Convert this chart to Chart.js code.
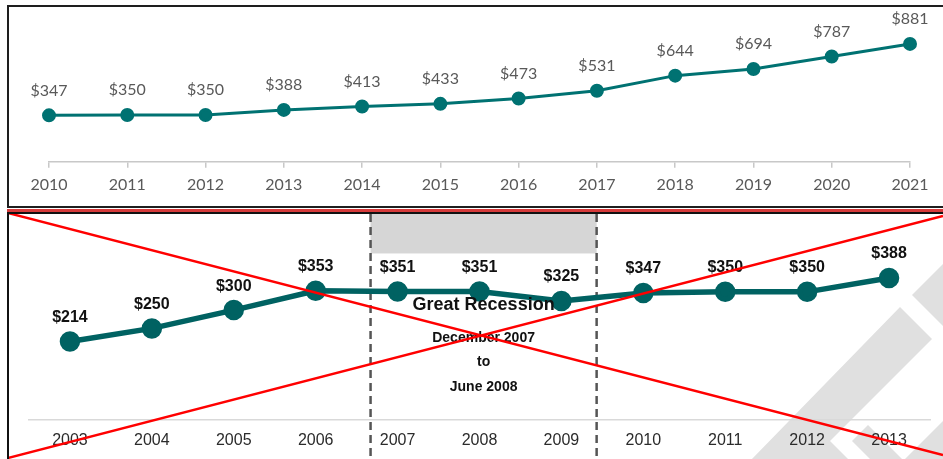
<!DOCTYPE html>
<html>
<head>
<meta charset="utf-8">
<script src="https://cdn.jsdelivr.net/npm/chart.js@4.4.1/dist/chart.umd.min.js"></script>
<style>
  html, body { margin: 0; padding: 0; background: #fff; width: 943px; height: 459px; overflow: hidden; position: relative; }
  #topFrame { position: absolute; left: 7px; top: 5px; width: 960px; height: 199px; border: 2px solid #1e1e1e; box-sizing: content-box; }
  #redRule { position: absolute; left: 7px; top: 209px; width: 960px; height: 2.5px; background: #d63a3a; }
  #botFrame { position: absolute; left: 7px; top: 212px; width: 960px; height: 260px; border-left: 2px solid #111; border-top: 2px solid #111; }
  #topWrap { position: absolute; left: 9px; top: 7px; width: 934px; height: 199px; }
  #botWrap { position: absolute; left: 9px; top: 214px; width: 934px; height: 247px; }
</style>
</head>
<body>
<div id="topFrame"></div>
<div id="redRule"></div>
<div id="botFrame"></div>
<div id="topWrap"><canvas id="topChart" width="934" height="199"></canvas></div>
<div id="botWrap"><canvas id="botChart" width="934" height="247"></canvas></div>
<script>
// ---------- data ----------
const topYears = ['2010','2011','2012','2013','2014','2015','2016','2017','2018','2019','2020','2021'];
const topValues = [347, 350, 350, 388, 413, 433, 473, 531, 644, 694, 787, 881];

const bottomYears = ['2003','2004','2005','2006','2007','2008','2009','2010','2011','2012','2013'];
const bottomValues = [214, 250, 300, 353, 351, 351, 325, 347, 350, 350, 388];

// recession band, in category-index units of the bottom chart
const recessionSpan = [3.67, 6.43];
const recessionShadeFloor = [455];
const recessionText = ['Great Recession', 'December 2007', 'to', 'June 2008'];

// ---------- helpers ----------
function dollar(v) { return '$' + v; }

const labelPlugin = {
  id: 'valueLabels',
  afterDatasetsDraw(chart, args, opts) {
    const ctx = chart.ctx;
    const meta = chart.getDatasetMeta(0);
    ctx.save();
    ctx.font = opts.font;
    ctx.fillStyle = opts.color;
    ctx.textAlign = 'center';
    ctx.textBaseline = 'middle';
    meta.data.forEach((pt, i) => {
      ctx.fillText(dollar(chart.data.datasets[0].data[i]), pt.x, pt.y - opts.offset);
    });
    ctx.restore();
  }
};

// ---------- top chart ----------
new Chart(document.getElementById('topChart'), {
  type: 'line',
  data: {
    labels: topYears,
    datasets: [{
      data: topValues,
      borderColor: '#007272',
      backgroundColor: '#007272',
      borderWidth: 3,
      pointRadius: 5.5,
      pointHoverRadius: 5.5,
      tension: 0,
      fill: false
    }]
  },
  plugins: [labelPlugin],
  options: {
    responsive: false,
    animation: false,
    events: [],
    layout: { padding: { left: 40, right: 33, top: 21, bottom: 5 } },
    plugins: {
      legend: { display: false },
      tooltip: { enabled: false },
      valueLabels: { font: '16px Lato', color: '#595959', offset: 25 }
    },
    scales: {
      x: {
        offset: false,
        grid: { display: true, drawOnChartArea: false, drawTicks: true, tickLength: 6, color: '#c8c8c8', lineWidth: 1.5 },
        border: { display: true, color: '#c8c8c8', width: 1.5 },
        ticks: { color: '#595959', font: { family: 'Lato', size: 16 }, padding: 7, maxRotation: 0, autoSkip: false }
      },
      y: { display: false, min: 0, max: 1000 }
    }
  }
});

// ---------- bottom chart ----------
const decorPlugin = {
  id: 'decor',
  beforeDraw(chart) {
    const ctx = chart.ctx;
    ctx.save();
    ctx.fillStyle = '#e0e0e0';
    const shapes = [
      [[741,247],[891,93],[923,125],[838,210],[821,227],[841,247]],
      [[903,81],[934,50],[934,112]],
      [[894,247],[934,207],[934,247]],
      [[843,227],[859,211],[895,247],[863,247]]
    ];
    shapes.forEach(s => {
      ctx.beginPath();
      s.forEach((p, i) => i ? ctx.lineTo(p[0], p[1]) : ctx.moveTo(p[0], p[1]));
      ctx.closePath();
      ctx.fill();
    });
    ctx.restore();
  },
  beforeDatasetsDraw(chart) {
    const ctx = chart.ctx;
    const xs = chart.scales.x, ys = chart.scales.y;
    const x0 = xs.getPixelForValue(recessionSpan[0]);
    const x1 = xs.getPixelForValue(recessionSpan[1]);
    const yFloor = ys.getPixelForValue(recessionShadeFloor[0]);
    ctx.save();
    ctx.fillStyle = '#d6d6d6';
    ctx.fillRect(x0, 0, x1 - x0, yFloor);
    ctx.strokeStyle = '#555555';
    ctx.lineWidth = 2.5;
    ctx.setLineDash([8, 5]);
    [x0, x1].forEach(x => {
      ctx.beginPath();
      ctx.moveTo(x, 0);
      ctx.lineTo(x, chart.height);
      ctx.stroke();
    });
    ctx.restore();
  },
  afterDraw(chart) {
    const ctx = chart.ctx;
    const xs = chart.scales.x;
    const cx = xs.getPixelForValue((recessionSpan[0] + recessionSpan[1]) / 2);
    ctx.save();
    ctx.fillStyle = '#111111';
    ctx.textAlign = 'center';
    ctx.textBaseline = 'middle';
    ctx.font = 'bold 18px "Liberation Sans", Arial, sans-serif';
    ctx.fillText(recessionText[0], cx, 91);
    ctx.font = 'bold 14px "Liberation Sans", Arial, sans-serif';
    ctx.fillText(recessionText[1], cx, 124);
    ctx.fillText(recessionText[2], cx, 148);
    ctx.fillText(recessionText[3], cx, 173);
    // red cross-out
    ctx.strokeStyle = '#ff0000';
    ctx.lineWidth = 2.5;
    ctx.setLineDash([]);
    ctx.beginPath();
    ctx.moveTo(-1, -1); ctx.lineTo(934, 241);
    ctx.moveTo(-1, 244); ctx.lineTo(934, 2);
    ctx.stroke();
    ctx.restore();
  }
};

new Chart(document.getElementById('botChart'), {
  type: 'line',
  data: {
    labels: bottomYears,
    datasets: [{
      data: bottomValues,
      borderColor: '#006262',
      backgroundColor: '#006262',
      borderWidth: 5.5,
      pointRadius: 7.5,
      pointHoverRadius: 7.5,
      tension: 0,
      fill: false
    }]
  },
  plugins: [decorPlugin, labelPlugin],
  options: {
    responsive: false,
    animation: false,
    events: [],
    layout: { padding: { left: 20, right: 13, top: 23, bottom: 0 } },
    plugins: {
      legend: { display: false },
      tooltip: { enabled: false },
      valueLabels: { font: 'bold 16px "Liberation Sans", Arial, sans-serif', color: '#111111', offset: 24 }
    },
    scales: {
      x: {
        offset: true,
        grid: { display: true, drawOnChartArea: false, drawTicks: false },
        border: { display: true, color: '#d9d9d9', width: 1.5 },
        ticks: { color: '#2b2b2b', font: { family: 'Liberation Sans', size: 16 }, padding: 11, maxRotation: 0, autoSkip: false }
      },
      y: { display: false, min: 0, max: 500 }
    }
  }
});
</script>
</body>
</html>
